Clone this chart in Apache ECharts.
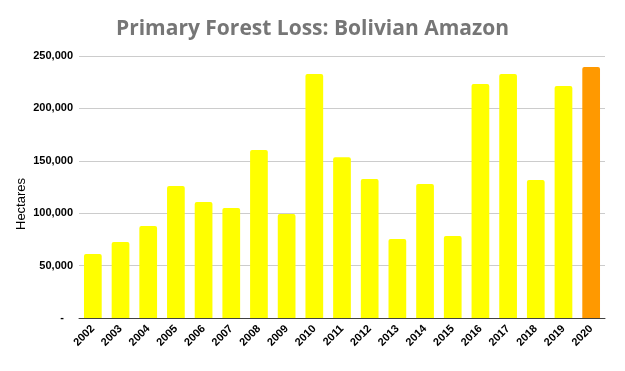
<!DOCTYPE html>
<html><head><meta charset="utf-8">
<script src="https://cdn.jsdelivr.net/npm/echarts@6/dist/echarts.min.js"></script>
<style>html,body{margin:0;padding:0;background:#fff}#c{width:625px;height:371px}</style>
</head><body><div id="c"></div>
<script>
const years = ['2002','2003','2004','2005','2006','2007','2008','2009','2010','2011','2012','2013','2014','2015','2016','2017','2018','2019','2020'];
const hectares = [61000,72500,87800,126000,110700,105000,160300,99200,232800,153300,132600,75400,127900,78200,223300,232800,131700,221400,239500];
const yTicks = [0,50000,100000,150000,200000,250000];
const highlightYear = '2020';

const chart = echarts.init(document.getElementById('c'));
const F = 'Liberation Sans, Arial, sans-serif';
chart.setOption({
  animation:false,
  title:{text:'Primary Forest Loss: Bolivian Amazon',left:'center',top:14,
    textStyle:{color:'#767676',fontSize:21,fontWeight:'bold',fontFamily:'Open Sans'}},
  grid:{left:79,right:20,top:56,bottom:53},
  xAxis:{type:'category',data:years,
    axisLine:{lineStyle:{color:'#404040',width:1}},axisTick:{show:false},
    axisLabel:{rotate:45,fontSize:11,fontWeight:'bold',color:'#000',fontFamily:F,margin:9,interval:0}},
  yAxis:{type:'value',min:yTicks[0],max:yTicks[yTicks.length-1],interval:50000,
    axisLine:{show:false},axisTick:{show:false},
    splitLine:{lineStyle:{color:'#cccccc'}},
    axisLabel:{fontSize:11,fontWeight:'bold',color:'#000',fontFamily:F,margin:6,
      formatter:v=>v===0?'-   ':v.toLocaleString('en-US')}},
  graphic:[{type:'text',rotation:Math.PI/2,
    style:{text:'Hectares',fontSize:13,fontFamily:F,fill:'#000',textAlign:'center',textVerticalAlign:'middle'},
    x:21,y:204}],
  series:[{type:'bar',barWidth:'64%',
    data:hectares.map((v,i)=>({value:v,itemStyle:{color:years[i]===highlightYear?'#FF9900':'#FFFF00'}})),
    itemStyle:{borderRadius:[2,2,0,0]}}]
});
</script></body></html>
